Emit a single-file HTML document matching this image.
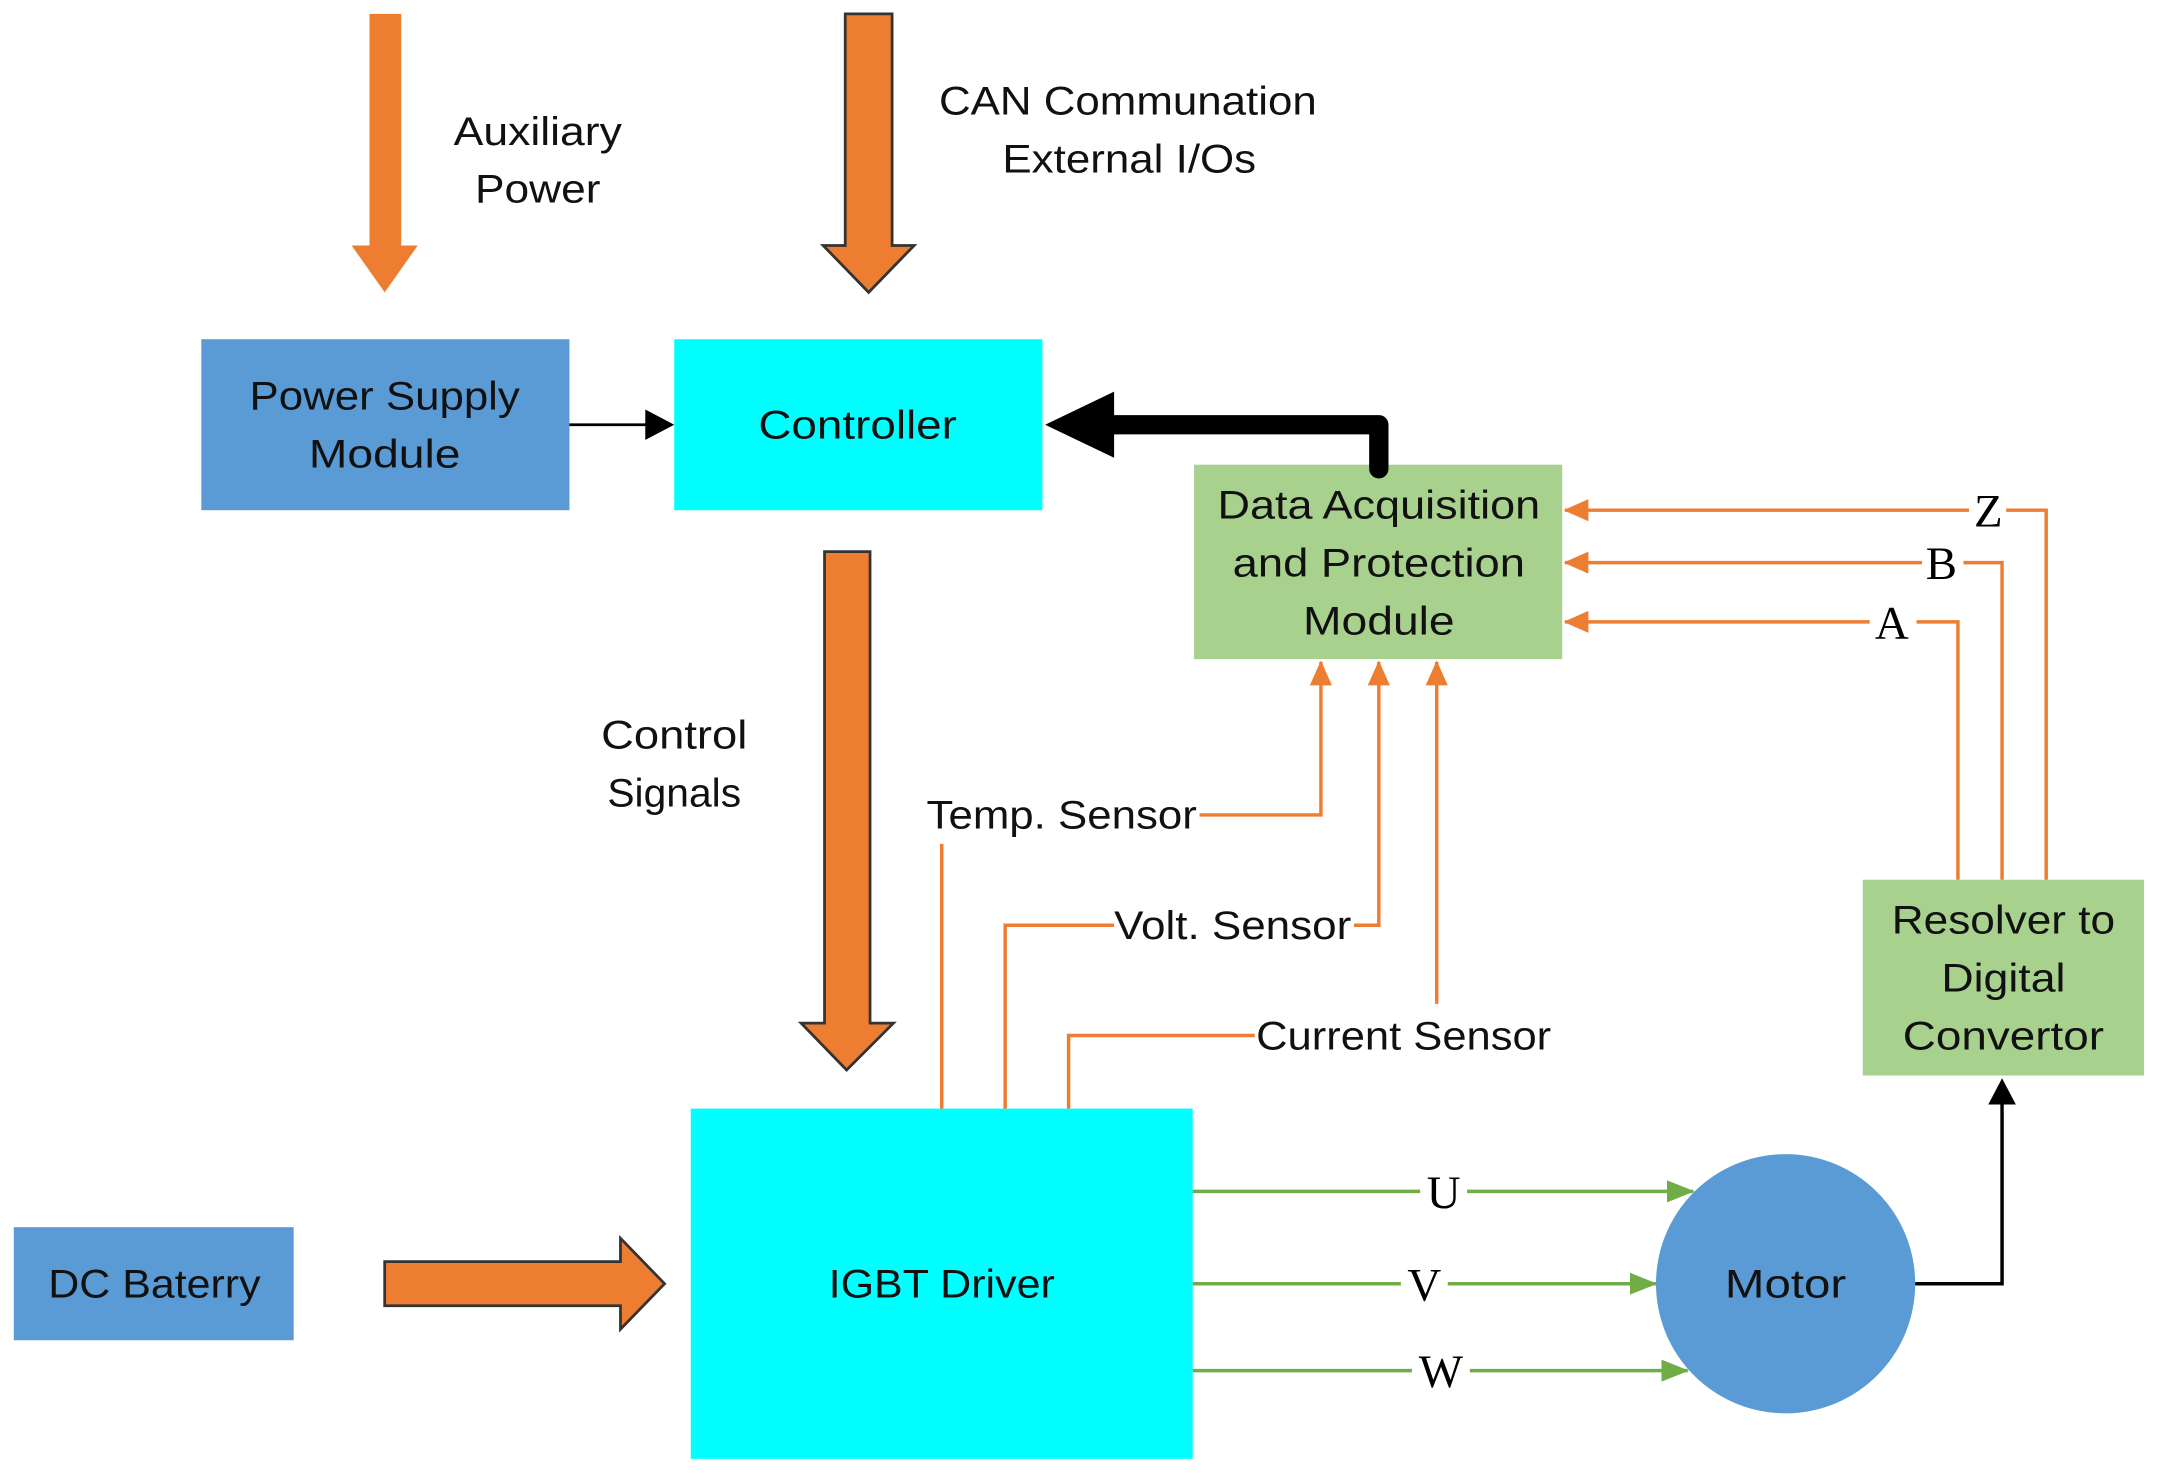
<!DOCTYPE html>
<html><head><meta charset="utf-8"><style>html,body{margin:0;padding:0;background:#fff}svg{display:block}</style></head>
<body>
<svg width="2162" height="1483" viewBox="0 0 1568 1075.5" xmlns="http://www.w3.org/2000/svg" font-family="Liberation Sans, sans-serif">
<defs>
<marker id="ao" markerWidth="18" markerHeight="16" refX="17" refY="8" orient="auto" markerUnits="userSpaceOnUse" viewBox="0 0 18 16"><path d="M0,0 L18,8 L0,16 z" fill="#ed7d31"/></marker>
<marker id="ag" markerWidth="20" markerHeight="16" refX="19" refY="8" orient="auto" markerUnits="userSpaceOnUse" viewBox="0 0 20 16"><path d="M0,0 L20,8 L0,16 z" fill="#70ad47"/></marker>
</defs>
<g>
<polygon points="268,10 291,10 291,178 303,178 279,212 255,178 268,178" fill="#ed7d31"/>
<polygon points="613,10 647,10 647,178 663,178 630,212 597,178 613,178" fill="#ed7d31" stroke="#333" stroke-width="2"/>
<polygon points="598,400 631,400 631,742 648,742 614,776 581,742 598,742" fill="#ed7d31" stroke="#333" stroke-width="2"/>
<polygon points="279,915 450,915 450,898 482,931 450,964 450,947 279,947" fill="#ed7d31" stroke="#333" stroke-width="2"/>

<rect x="146" y="246" width="267" height="124" fill="#5b9bd5"/>
<rect x="489" y="246" width="267" height="124" fill="#00ffff"/>
<rect x="866" y="337" width="267" height="141" fill="#a9d18e"/>
<rect x="1351" y="638" width="204" height="142" fill="#a9d18e"/>
<rect x="501" y="804" width="364" height="254" fill="#00ffff"/>
<rect x="10" y="890" width="203" height="82" fill="#5b9bd5"/>
<circle cx="1295" cy="931" r="94" fill="#5b9bd5"/>

<line x1="413" y1="308" x2="472" y2="308" stroke="#000" stroke-width="2"/>
<polygon points="468,297 489,308 468,319" fill="#000"/>
<path d="M1000,340 L1000,308 L800,308" fill="none" stroke="#000" stroke-width="14" stroke-linejoin="round" stroke-linecap="round"/>
<polygon points="808,284 758,308 808,332" fill="#000"/>

<g fill="none" stroke="#ed7d31" stroke-width="2.5">
<polyline points="1484,638 1484,370 1455,370"/><line x1="1428" y1="370" x2="1135" y2="370" marker-end="url(#ao)"/>
<polyline points="1452,638 1452,408 1424,408"/><line x1="1394" y1="408" x2="1135" y2="408" marker-end="url(#ao)"/>
<polyline points="1420,638 1420,451 1390,451"/><line x1="1356" y1="451" x2="1135" y2="451" marker-end="url(#ao)"/>
<polyline points="870,591 958,591 958,480" marker-end="url(#ao)"/>
<line x1="683" y1="612" x2="683" y2="804"/>
<polyline points="982,671 1000,671 1000,480" marker-end="url(#ao)"/>
<polyline points="808,671 729,671 729,804"/>
<line x1="1042" y1="728" x2="1042" y2="480" marker-end="url(#ao)"/>
<polyline points="910,751 775,751 775,804"/>
</g>
<g font-family="Liberation Serif, serif" font-size="34" fill="#000" text-anchor="middle">
<text x="1442" y="382">Z</text><text x="1408" y="420">B</text><text x="1372" y="463">A</text>
<text x="1047" y="876">U</text><text x="1033" y="943">V</text><text x="1045" y="1006">W</text>
</g>
<g fill="none" stroke="#70ad47" stroke-width="2.5">
<line x1="865" y1="864" x2="1030" y2="864"/><line x1="1064" y1="864" x2="1228" y2="864" marker-end="url(#ag)"/>
<line x1="865" y1="931" x2="1016" y2="931"/><line x1="1050" y1="931" x2="1201" y2="931" marker-end="url(#ag)"/>
<line x1="865" y1="994" x2="1024" y2="994"/><line x1="1066" y1="994" x2="1224" y2="994" marker-end="url(#ag)"/>
</g>
<polyline points="1389,931 1452,931 1452,798" fill="none" stroke="#000" stroke-width="2.5"/>
<polygon points="1442,801 1452,782 1462,801" fill="#000"/>

<g font-size="29" fill="#111" text-anchor="middle">
<text x="390" y="105" textLength="122" lengthAdjust="spacingAndGlyphs">Auxiliary</text>
<text x="390" y="147" textLength="91" lengthAdjust="spacingAndGlyphs">Power</text>
<text x="818" y="83" textLength="274" lengthAdjust="spacingAndGlyphs">CAN Communation</text>
<text x="819" y="125" textLength="184" lengthAdjust="spacingAndGlyphs">External I/Os</text>
<text x="279" y="297" textLength="196" lengthAdjust="spacingAndGlyphs">Power Supply</text>
<text x="279" y="339" textLength="110" lengthAdjust="spacingAndGlyphs">Module</text>
<text x="622" y="318" textLength="144" lengthAdjust="spacingAndGlyphs">Controller</text>
<text x="1000" y="376" textLength="234" lengthAdjust="spacingAndGlyphs">Data Acquisition</text>
<text x="1000" y="418" textLength="212" lengthAdjust="spacingAndGlyphs">and Protection</text>
<text x="1000" y="460" textLength="110" lengthAdjust="spacingAndGlyphs">Module</text>
<text x="489" y="543" textLength="106" lengthAdjust="spacingAndGlyphs">Control</text>
<text x="489" y="585" textLength="97" lengthAdjust="spacingAndGlyphs">Signals</text>
<text x="770" y="601" textLength="196" lengthAdjust="spacingAndGlyphs">Temp. Sensor</text>
<text x="894" y="681" textLength="172" lengthAdjust="spacingAndGlyphs">Volt. Sensor</text>
<text x="1018" y="761" textLength="214" lengthAdjust="spacingAndGlyphs">Current Sensor</text>
<text x="1453" y="677" textLength="162" lengthAdjust="spacingAndGlyphs">Resolver to</text>
<text x="1453" y="719" textLength="90" lengthAdjust="spacingAndGlyphs">Digital</text>
<text x="1453" y="761" textLength="146" lengthAdjust="spacingAndGlyphs">Convertor</text>
<text x="683" y="941" textLength="164" lengthAdjust="spacingAndGlyphs">IGBT Driver</text>
<text x="112" y="941" textLength="154" lengthAdjust="spacingAndGlyphs">DC Baterry</text>
<text x="1295" y="941" textLength="88" lengthAdjust="spacingAndGlyphs">Motor</text>
</g>
</g>
</svg>
</body></html>
